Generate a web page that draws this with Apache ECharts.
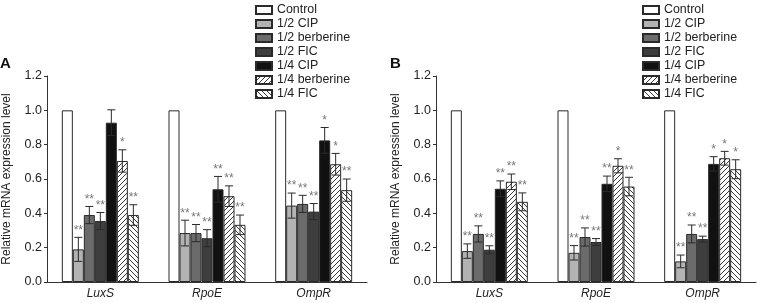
<!DOCTYPE html>
<html>
<head>
<meta charset="utf-8">
<script src="https://cdn.jsdelivr.net/npm/echarts@6/dist/echarts.min.js"></script>
<style>
html, body { margin: 0; padding: 0; background: #fff; }
#chart { width: 757px; height: 303px; }
</style>
</head>
<body>
<div id="chart"></div>
<script>
var genes = ['LuxS', 'RpoE', 'OmpR'];
var treatments = ['Control', '1/2 CIP', '1/2 berberine', '1/2 FIC', '1/4 CIP', '1/4 berberine', '1/4 FIC'];
var yTicks = [0, 0.2, 0.4, 0.6, 0.8, 1.0, 1.2];

// panel A : mean per treatment (rows) and gene (cols)
var a_means = [
  [1, 1, 1],
  [0.19, 0.285, 0.445],
  [0.39, 0.285, 0.455],
  [0.355, 0.255, 0.41],
  [0.928, 0.54, 0.825],
  [0.705, 0.50, 0.686],
  [0.39, 0.333, 0.535]
];
var a_errs = [
  [0, 0, 0],
  [0.07, 0.075, 0.073],
  [0.05, 0.05, 0.05],
  [0.05, 0.05, 0.047],
  [0.075, 0.075, 0.075],
  [0.065, 0.06, 0.063],
  [0.06, 0.057, 0.065]
];
var a_sig = [
  ['', '', ''],
  ['**', '**', '**'],
  ['**', '**', '**'],
  ['**', '**', '**'],
  ['', '**', '*'],
  ['*', '**', '*'],
  ['**', '**', '**']
];

// panel B
var b_means = [
  [1, 1, 1],
  [0.18, 0.17, 0.12],
  [0.28, 0.262, 0.28],
  [0.188, 0.233, 0.25],
  [0.543, 0.572, 0.688],
  [0.584, 0.677, 0.721],
  [0.467, 0.556, 0.657]
];
var b_errs = [
  [0, 0, 0],
  [0.042, 0.042, 0.037],
  [0.047, 0.053, 0.052],
  [0.023, 0.02, 0.017],
  [0.046, 0.045, 0.042],
  [0.045, 0.041, 0.04],
  [0.052, 0.054, 0.055]
];
var b_sig = [
  ['', '', ''],
  ['**', '**', '**'],
  ['**', '**', '**'],
  ['**', '**', '**'],
  ['**', '**', '*'],
  ['**', '*', '*'],
  ['**', '**', '*']
];

function hatch(dir) {
  var s = 5;
  var c = document.createElement('canvas');
  c.width = s; c.height = s;
  var g = c.getContext('2d');
  g.fillStyle = '#fff';
  g.fillRect(0, 0, s, s);
  g.strokeStyle = '#222';
  g.lineWidth = 0.9;
  g.beginPath();
  if (dir > 0) {
    g.moveTo(-1, s + 1); g.lineTo(s + 1, -1);
  } else {
    g.moveTo(-1, -1); g.lineTo(s + 1, s + 1);
  }
  g.stroke();
  return c;
}

var fills = ['#ffffff', '#b3b3b3', '#6b6b6b', '#3e3e3e', '#111111',
  { image: hatch(1), repeat: 'repeat' },
  { image: hatch(-1), repeat: 'repeat' }];

var barW = 11;
var font = 'Liberation Sans, Arial, sans-serif';

var chart = echarts.init(document.getElementById('chart'));

var series = [];
function addPanel(p, means, errs, sigs) {
  treatments.forEach(function (name, k) {
    series.push({
      name: name,
      type: 'bar',
      xAxisIndex: p,
      yAxisIndex: p,
      barWidth: barW,
      barGap: '0%',
      itemStyle: { color: fills[k], borderColor: '#2a2a2a', borderWidth: 1 },
      data: means[k],
      animation: false
    });
  });
  treatments.forEach(function (name, k) {
    if (k === 0) return;
    var data = genes.map(function (g, i) { return [i, means[k][i], errs[k][i]]; });
    series.push({
      type: 'custom',
      xAxisIndex: p,
      yAxisIndex: p,
      silent: true,
      z: 5,
      data: data,
      renderItem: function (params, api) {
        var i = api.value(0), v = api.value(1), e = api.value(2);
        var x = api.coord([i, v])[0] + (k - 3) * barW;
        var top = api.coord([i, v + e])[1];
        var bot = api.coord([i, v - e])[1];
        var ls = { stroke: '#2a2a2a', lineWidth: 1 };
        return {
          type: 'group',
          children: [
            { type: 'line', shape: { x1: x, y1: top, x2: x, y2: bot }, style: ls },
            { type: 'line', shape: { x1: x - 4, y1: top, x2: x + 4, y2: top }, style: ls },
            { type: 'line', shape: { x1: x - 4, y1: bot, x2: x + 4, y2: bot }, style: ls },
            { type: 'text', style: { text: sigs[k][params.dataIndex], x: x, y: top - 1,
                align: 'center', verticalAlign: 'bottom', fill: '#777',
                font: '12px ' + font } }
          ]
        };
      },
      animation: false
    });
  });
}
addPanel(0, a_means, a_errs, a_sig);
addPanel(1, b_means, b_errs, b_sig);

function xAx(p) {
  return {
    type: 'category', gridIndex: p, data: genes,
    axisLine: { lineStyle: { color: '#333', width: 1 } },
    axisTick: { length: 4, lineStyle: { color: '#333' } },
    axisLabel: { fontStyle: 'italic', fontSize: 12, color: '#222', margin: 6, fontFamily: font }
  };
}
function yAx(p) {
  return {
    type: 'value', gridIndex: p, min: 0, max: 1.2, interval: 0.2,
    name: 'Relative mRNA expression level', nameLocation: 'middle', nameGap: 34,
    nameTextStyle: { fontSize: 12, color: '#222', fontFamily: font },
    splitLine: { show: false },
    axisLine: { show: true, lineStyle: { color: '#333', width: 1 } },
    axisTick: { show: true, length: 3, lineStyle: { color: '#333' } },
    axisLabel: { fontSize: 12.5, color: '#222', margin: 5, fontFamily: font,
      formatter: function (v) { return v.toFixed(1); } }
  };
}
function legend(left) {
  return {
    orient: 'vertical', left: left, top: -2, itemWidth: 16, itemHeight: 8, itemGap: 0,
    icon: 'rect', data: treatments,
    textStyle: { fontSize: 12.4, color: '#222', lineHeight: 14, fontFamily: font, padding: [0, 0, 0, 0] },
    selectedMode: false
  };
}

chart.setOption({
  animation: false,
  backgroundColor: '#fff',
  textStyle: { fontFamily: font },
  legend: [legend(250), legend(637)],
  grid: [
    { left: 45, top: 76, width: 322, height: 206 },
    { left: 436, top: 76, width: 320, height: 206 }
  ],
  xAxis: [xAx(0), xAx(1)],
  yAxis: [yAx(0), yAx(1)],
  graphic: [
    { type: 'text', left: 0, top: 56, style: { text: 'A', font: 'bold 15px ' + font, fill: '#111' } },
    { type: 'text', left: 390, top: 56, style: { text: 'B', font: 'bold 15px ' + font, fill: '#111' } }
  ],
  series: series
});
</script>
</body>
</html>
